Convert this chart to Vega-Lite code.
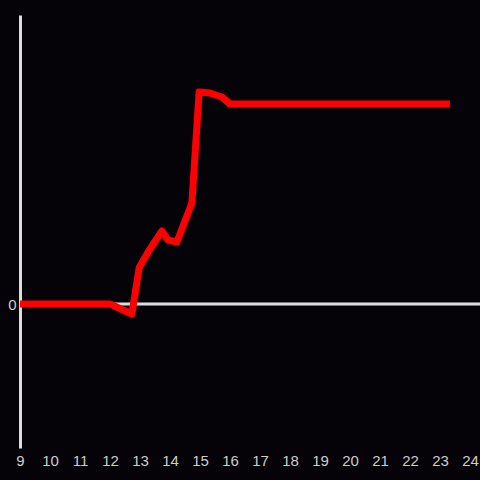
{
  "$schema": "https://vega.github.io/schema/vega-lite/v6.json",
  "width": 460,
  "height": 433,
  "autosize": "none",
  "padding": {"left": 20, "top": 15, "right": 0, "bottom": 32},
  "background": "#050307",
  "config": {
    "view": {"stroke": null},
    "axis": {"labelFont": "Liberation Sans", "labelFontSize": 15, "labelColor": "#cccccc"}
  },
  "datasets": {
    "series": [
      {"hour": 9.0, "value": 0},
      {"hour": 12.0, "value": 0},
      {"hour": 12.73, "value": -10},
      {"hour": 12.97, "value": 36},
      {"hour": 13.27, "value": 52},
      {"hour": 13.73, "value": 73},
      {"hour": 13.93, "value": 64},
      {"hour": 14.23, "value": 62},
      {"hour": 14.73, "value": 101},
      {"hour": 14.97, "value": 212},
      {"hour": 15.33, "value": 211},
      {"hour": 15.73, "value": 207},
      {"hour": 16.0, "value": 200},
      {"hour": 23.33, "value": 200}
    ],
    "zero": [{"value": 0}]
  },
  "layer": [
    {
      "data": {"name": "zero"},
      "mark": {"type": "rule", "color": "#dddddd", "strokeWidth": 3},
      "encoding": {"y": {"field": "value", "type": "quantitative", "scale": {"domain": [-144, 289], "nice": false}}}
    },
    {
      "data": {"name": "series"},
      "mark": {"type": "line", "color": "#ff0000", "strokeWidth": 7, "strokeJoin": "round"},
      "encoding": {
        "x": {
          "field": "hour", "type": "quantitative",
          "scale": {"domain": [9, 24.333], "nice": false, "zero": false},
          "axis": {"title": null, "domain": false, "ticks": false, "grid": false, "values": [9,10,11,12,13,14,15,16,17,18,19,20,21,22,23,24], "labelPadding": 5, "labelFlush": false, "labelOverlap": false}
        },
        "y": {
          "field": "value", "type": "quantitative",
          "scale": {"domain": [-144, 289], "nice": false},
          "axis": {"title": null, "grid": false, "ticks": false, "values": [0], "domainColor": "#dddddd", "domainWidth": 3, "labelPadding": 4}
        }
      }
    }
  ]
}
